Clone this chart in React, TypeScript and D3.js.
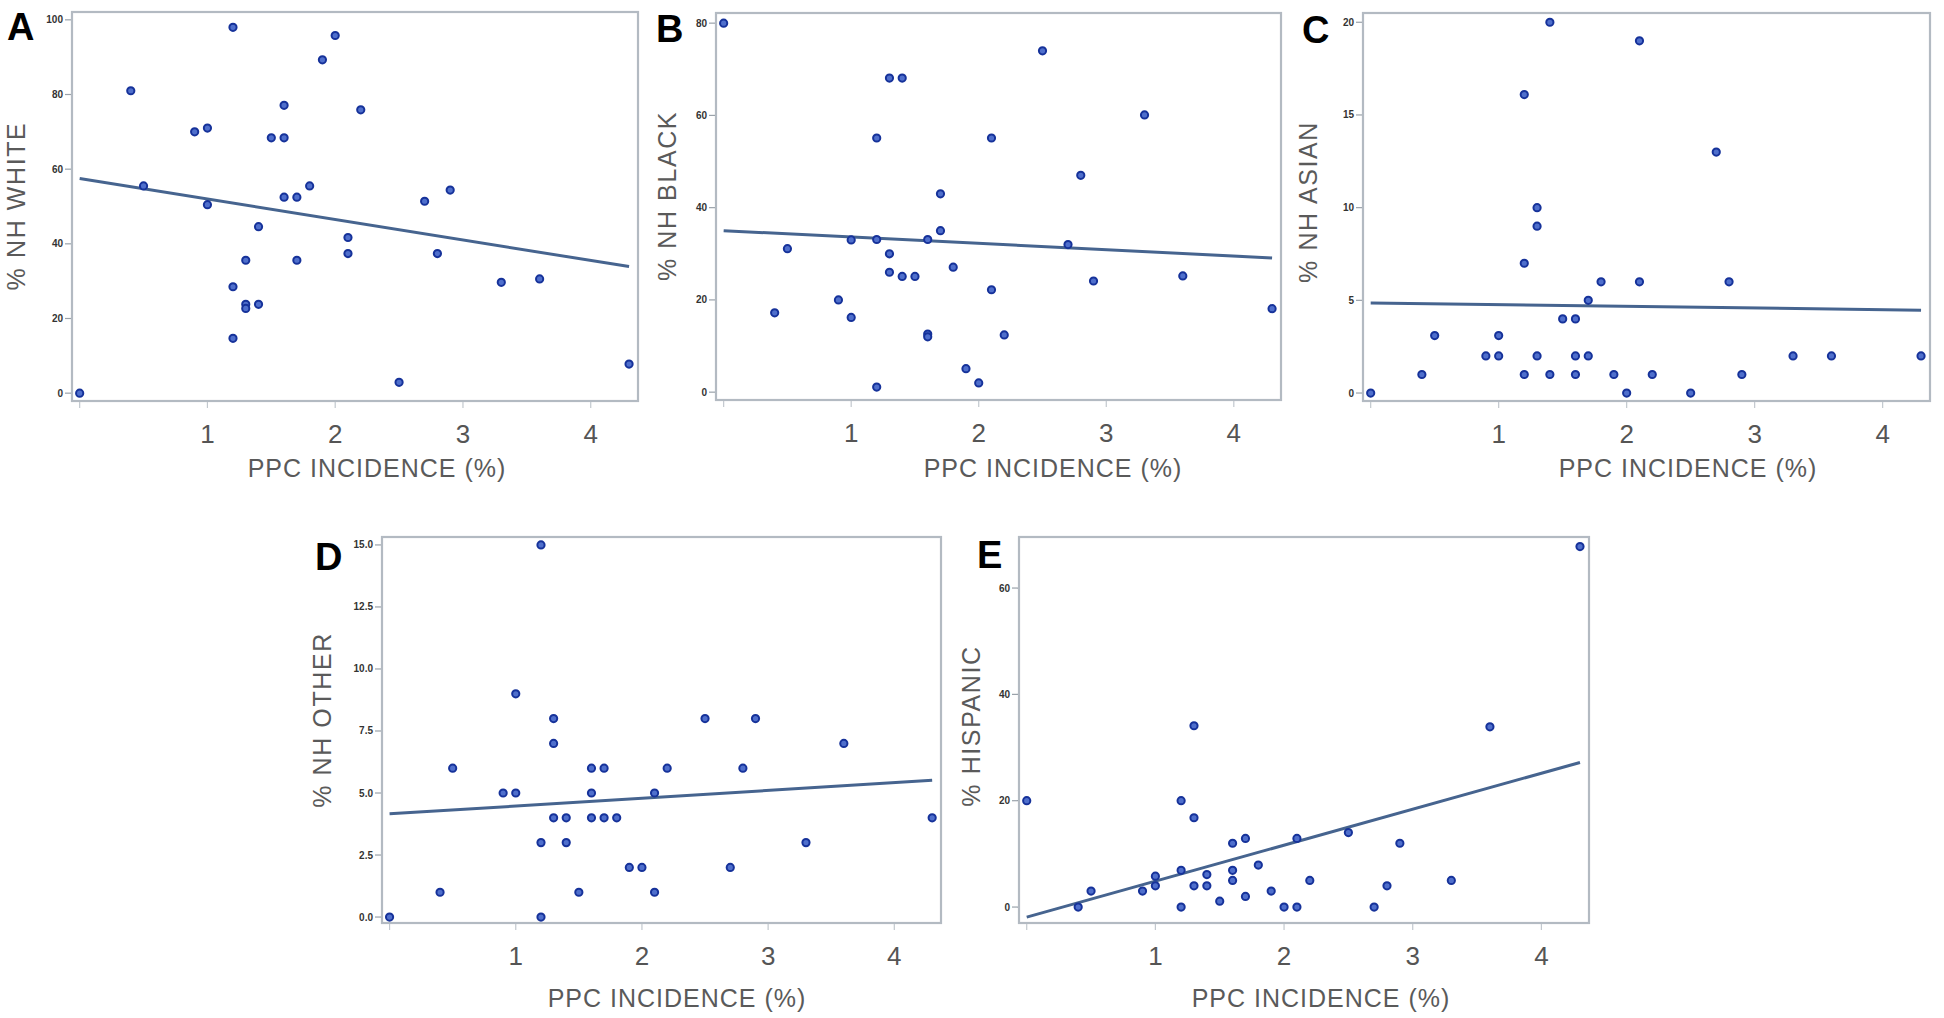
import React from "react";
import * as d3 from "d3";

// PPC incidence (%) for each of the 33 units (shared x values across panels)
const ppcIncidence = [0, 0.4, 0.5, 0.9, 1.0, 1.0, 1.2, 1.2, 1.2, 1.3, 1.3, 1.3, 1.4, 1.4, 1.5, 1.6, 1.6, 1.6, 1.7, 1.7, 1.8, 1.9, 2.0, 2.1, 2.1, 2.2, 2.5, 2.7, 2.8, 2.9, 3.3, 3.6, 4.3];

const pctNHWhite = [0, 81, 55.5, 70, 71, 50.5, 98, 28.5, 14.7, 35.6, 23.8, 22.7, 23.8, 44.6, 68.4, 68.4, 77.1, 52.5, 52.5, 35.6, 55.5, 89.3, 95.8, 41.7, 37.4, 75.9, 2.9, 51.4, 37.4, 54.4, 29.7, 30.6, 7.8];
const pctNHBlack = [80, 17.2, 31.1, 20, 33, 16.2, 55.1, 33.1, 1.1, 68.1, 30, 26, 68.1, 25.1, 25.1, 33.1, 12.6, 12, 43, 35, 27.1, 5.1, 2, 55.1, 22.2, 12.4, 74, 32, 47, 24.1, 60.1, 25.2, 18.1];
const pctNHAsian = [0, 1, 3.1, 2, 2, 3.1, 16.1, 7, 1, 10, 9, 2, 20, 1, 4, 4, 2, 1, 5, 2, 6, 1, 0, 19, 6, 1, 0, 13, 6, 1, 2, 2, 2];
const pctNHOther = [0, 1, 6, 5, 5, 9, 15, 3, 0, 8, 7, 4, 4, 3, 1, 6, 5, 4, 6, 4, 4, 2, 2, 5, 1, 6, 8, 2, 6, 8, 3, 7, 4];
const pctHispanic = [20, 0, 3, 3, 4, 5.8, 20, 6.9, 0, 34.1, 16.8, 4, 4, 6.1, 1.1, 12, 6.9, 5, 12.9, 2, 7.9, 3, 0, 12.9, 0, 5, 14, 0, 4, 12, 5, 33.9, 67.8];

// Fitted regression lines: [x start, x end], [y start, y end]
const fitX = [0, 4.3];
const fitWhite = [57.5, 33.9];
const fitBlack = [35.0, 29.1];
const fitAsian = [4.86, 4.47];
const fitOther = [4.16, 5.51];
const fitHispanic = [-1.9, 27.2];

// Axis ticks
const xTicks = [0, 1, 2, 3, 4];
const xTickLabels = ["", "1", "2", "3", "4"];
const yTicksWhite = [0, 20, 40, 60, 80, 100];
const yTicksBlack = [0, 20, 40, 60, 80];
const yTicksAsian = [0, 5, 10, 15, 20];
const yTicksOther = [0, 2.5, 5, 7.5, 10, 12.5, 15];
const yTicksHispanic = [0, 20, 40, 60];

const panelLetters = ["A", "B", "C", "D", "E"];
const yAxisTitles = ["% NH WHITE", "% NH BLACK", "% NH ASIAN", "% NH OTHER", "% HISPANIC"];
const xAxisTitle = "PPC INCIDENCE (%)";

const FONT = "'Liberation Sans', Arial, Helvetica, sans-serif";

type PanelSpec = {
  letter: string;
  yTitle: string;
  ys: number[];
  fit: number[];
  yTicks: number[];
  yFmt: (v: number) => string;
  left: number;
  top: number;
  width: number;
  height: number;
  yDomain: [number, number];
  letterX: number;
  letterY: number;
  yTitleX: number;
  yTitleY: number;
  xTitleX: number;
  xTitleY: number;
};

const intFmt = (v: number) => d3.format("d")(v);
const oneDec = (v: number) => d3.format(".1f")(v);

const panels: PanelSpec[] = [
  { letter: panelLetters[0], yTitle: yAxisTitles[0], ys: pctNHWhite, fit: fitWhite, yTicks: yTicksWhite, yFmt: intFmt,
    left: 72, top: 12, width: 566, height: 389, yDomain: [-2.1, 102.1], letterX: 7, letterY: 40, yTitleX: 16, yTitleY: 206, xTitleX: 377, xTitleY: 477 },
  { letter: panelLetters[1], yTitle: yAxisTitles[1], ys: pctNHBlack, fit: fitBlack, yTicks: yTicksBlack, yFmt: intFmt,
    left: 716, top: 13, width: 565, height: 387, yDomain: [-1.7, 82.2], letterX: 656, letterY: 42, yTitleX: 667, yTitleY: 196, xTitleX: 1053, xTitleY: 477 },
  { letter: panelLetters[2], yTitle: yAxisTitles[2], ys: pctNHAsian, fit: fitAsian, yTicks: yTicksAsian, yFmt: intFmt,
    left: 1363, top: 13, width: 567, height: 388, yDomain: [-0.43, 20.5], letterX: 1302, letterY: 43, yTitleX: 1308, yTitleY: 202, xTitleX: 1688, xTitleY: 477 },
  { letter: panelLetters[3], yTitle: yAxisTitles[3], ys: pctNHOther, fit: fitOther, yTicks: yTicksOther, yFmt: oneDec,
    left: 382, top: 537, width: 559, height: 386, yDomain: [-0.24, 15.32], letterX: 315, letterY: 570, yTitleX: 322, yTitleY: 720, xTitleX: 677, xTitleY: 1007 },
  { letter: panelLetters[4], yTitle: yAxisTitles[4], ys: pctHispanic, fit: fitHispanic, yTicks: yTicksHispanic, yFmt: intFmt,
    left: 1019, top: 537, width: 570, height: 386, yDomain: [-3.0, 69.6], letterX: 977, letterY: 568, yTitleX: 971, yTitleY: 726, xTitleX: 1321, xTitleY: 1007 },
];

function Panel({ p }: { p: PanelSpec }) {
  const x = d3.scaleLinear().domain([-0.06, 4.37]).range([p.left, p.left + p.width]);
  const y = d3.scaleLinear().domain(p.yDomain).range([p.top + p.height, p.top]);
  const bottom = p.top + p.height;
  const line = d3
    .line<number>()
    .x((_, i) => x(fitX[i]))
    .y((d) => y(d));
  return (
    <g>
      <text x={p.letterX} y={p.letterY} fontFamily={FONT} fontWeight="bold" fontSize={38} fill="#000">
        {p.letter}
      </text>
      <rect x={p.left} y={p.top} width={p.width} height={p.height} fill="#fff" stroke="#b3bac2" strokeWidth={2.2} />
      {p.yTicks.map((t) => (
        <g key={"y" + t}>
          <line x1={p.left - 7} x2={p.left - 1} y1={y(t)} y2={y(t)} stroke="#9aa2aa" strokeWidth={1.2} />
          <text x={p.left - 9} y={y(t)} dy="0.35em" textAnchor="end" fontFamily={FONT} fontSize={10} fontWeight={600} fill="#333">
            {p.yFmt(t)}
          </text>
        </g>
      ))}
      {xTicks.map((t, i) => (
        <g key={"x" + t}>
          <line x1={x(t)} x2={x(t)} y1={bottom + 1} y2={bottom + 7} stroke="#c2c8ce" strokeWidth={1.2} />
          <text x={x(t)} y={bottom + 42} textAnchor="middle" fontFamily={FONT} fontSize={26} fill="#555">
            {xTickLabels[i]}
          </text>
        </g>
      ))}
      <path d={line(p.fit) || ""} fill="none" stroke="#46648f" strokeWidth={3} />
      {p.ys.map((v, i) => (
        <circle key={i} cx={x(ppcIncidence[i])} cy={y(v)} r={3.6} fill="#4f6fcc" stroke="#16329a" strokeWidth={2} />
      ))}
      <text x={p.xTitleX} y={p.xTitleY} textAnchor="middle" fontFamily={FONT} fontSize={25} letterSpacing={1} fill="#5a5a5a">
        {xAxisTitle}
      </text>
      <text
        transform={`translate(${p.yTitleX},${p.yTitleY}) rotate(-90)`}
        textAnchor="middle"
        dy="0.36em"
        fontFamily={FONT}
        fontSize={25}
        letterSpacing={1.6}
        fill="#5a5a5a"
      >
        {p.yTitle}
      </text>
    </g>
  );
}

export default function App() {
  return (
    <div style={{ position: "absolute", left: 0, top: 0, width: 1944, height: 1018, background: "#fff" }}>
      <svg width={1944} height={1018} viewBox="0 0 1944 1018" style={{ display: "block" }}>
        <rect x={0} y={0} width={1944} height={1018} fill="#fff" />
        {panels.map((p) => (
          <Panel key={p.letter} p={p} />
        ))}
      </svg>
    </div>
  );
}
